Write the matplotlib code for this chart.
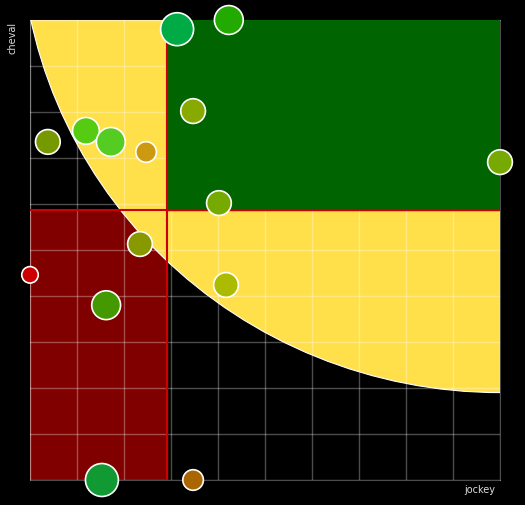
import matplotlib.pyplot as plt
from matplotlib.patches import Rectangle, Ellipse

# data
jockey = [3.13, 4.23, 3.47, 0.38, 1.19, 1.72, 2.47, 10.0, 4.02, 2.34, 0.0, 4.17, 1.62, 1.53, 3.47]
cheval = [9.8, 10.0, 8.02, 7.35, 7.59, 7.35, 7.13, 6.91, 6.02, 5.13, 4.46, 4.24, 3.80, 0.0, 0.0]
radius = [16, 14, 12, 12, 13, 14, 10, 12, 12, 12, 8, 12, 14, 16, 10]
colors = ['#00aa44', '#22aa00', '#88aa00', '#779900', '#55cc11', '#55cc22', '#cc9911',
          '#77aa00', '#77aa00', '#889900', '#cc0000', '#aabb00', '#449900', '#119933', '#aa6600']
split_x = 2.91
split_y = 5.87

fig = plt.figure(figsize=(5.25, 5.05), dpi=100, facecolor='black')
ax = fig.add_axes([30/525, 25/505, 470/525, 460/505])
ax.set_facecolor('black')
ax.set_xlim(0, 10)
ax.set_ylim(0, 10)

ax.add_patch(Rectangle((0, 0), split_x, split_y, color='#800000', zorder=1))
ell = Ellipse((10, 12.1), 2*10.2, 2*10.2, facecolor='#ffe04a', edgecolor='white', lw=0.8, zorder=2)
ax.add_patch(ell)
ell.set_clip_path(ax.patch)
ax.add_patch(Rectangle((split_x, split_y), 10-split_x, 10-split_y, color='#006400', zorder=3))
ax.axvline(split_x, color='#cc0000', lw=1.5, zorder=4)
ax.axhline(split_y, color='#cc0000', lw=1.5, zorder=4)

ax.set_xticks(range(11))
ax.set_yticks(range(11))
ax.grid(color='white', alpha=0.3, lw=1, zorder=5)
ax.set_axisbelow(False)
ax.tick_params(length=0, labelbottom=False, labelleft=False)
for s in ax.spines.values():
    s.set_color((1, 1, 1, 0.3))

ax.scatter(jockey, cheval, s=[(r*2)**2*0.55 for r in radius], c=colors,
           edgecolors='white', linewidths=1.2, zorder=6, clip_on=False)

fig.text(12/525, 1-38/505, 'cheval', color='#dddddd', rotation=90, ha='center', va='center', fontsize=7)
fig.text(480/525, 1-490/505, 'jockey', color='#dddddd', ha='center', va='center', fontsize=7)

fig.savefig('out.png', facecolor='black')
